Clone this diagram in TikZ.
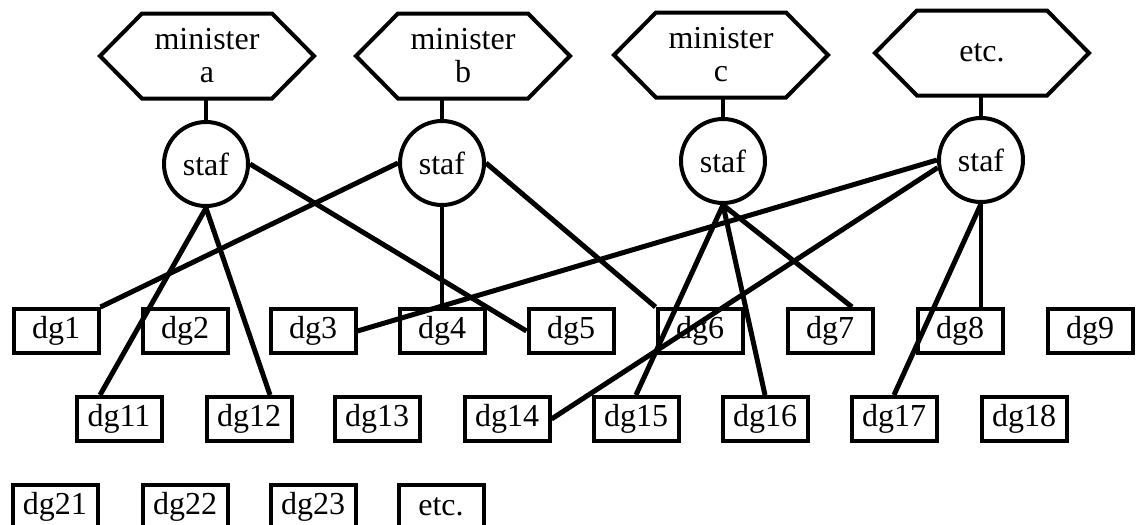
\documentclass[tikz,border=0pt]{standalone}
\usepackage{fontspec}
\setmainfont{Liberation Serif}
\newcommand\hexoutline[1]{\draw (#1.north west) -- (#1.north east) -- ([xshift=42pt]#1.east) -- (#1.south east) -- (#1.south west) -- ([xshift=-42pt]#1.west) -- cycle;}
\begin{document}
\begin{tikzpicture}[x=1pt,y=-1pt, line width=4pt,
  every node/.style={font=\fontsize{32}{33}\selectfont},
  dgbox/.style={draw, rectangle, minimum width=85pt, minimum height=44pt, inner sep=0pt},
  stafnode/.style={draw, circle, minimum size=84pt, inner sep=0pt},
  hexcore/.style={minimum width=130pt, minimum height=85pt, inner sep=0pt, outer sep=0pt, align=center},
  link/.style={line width=5pt}]
\useasboundingbox (0,0) rectangle (1136,525);

% ministers
\node[hexcore] (ha) at (207,56) {minister\\a};
\node[hexcore] (hb) at (463,56) {minister\\b};
\node[hexcore] (hc) at (721,55) {minister\\c};
\node[hexcore] (he) at (982,53) {etc.};
\hexoutline{ha}
\hexoutline{hb}
\hexoutline{hc}
\hexoutline{he}

% staf
\node[stafnode] (sa) at (206,164) {staf};
\node[stafnode] (sb) at (442,163) {staf};
\node[stafnode] (sc) at (723,161) {staf};
\node[stafnode] (se) at (981,160) {staf};

% row 1
\node[dgbox] (dg1) at (56,331) {dg1};
\node[dgbox] (dg2) at (185,331) {dg2};
\node[dgbox] (dg3) at (313,331) {dg3};
\node[dgbox] (dg4) at (442,331) {dg4};
\node[dgbox] (dg5) at (571,331) {dg5};
\node[dgbox] (dg6) at (700,331) {dg6};
\node[dgbox] (dg7) at (830,331) {dg7};
\node[dgbox] (dg8) at (960,331) {dg8};
\node[dgbox] (dg9) at (1090,331) {dg9};
% row 2
\node[dgbox] (dg11) at (119,419) {dg11};
\node[dgbox] (dg12) at (249,419) {dg12};
\node[dgbox] (dg13) at (377,419) {dg13};
\node[dgbox] (dg14) at (507,419) {dg14};
\node[dgbox] (dg15) at (636,419) {dg15};
\node[dgbox] (dg16) at (765,419) {dg16};
\node[dgbox] (dg17) at (894,419) {dg17};
\node[dgbox] (dg18) at (1024,419) {dg18};
% row 3
\node[dgbox] (dg21) at (55,507) {dg21};
\node[dgbox] (dg22) at (185,507) {dg22};
\node[dgbox] (dg23) at (313,507) {dg23};
\node[dgbox] (dgetc) at (441,507) {etc.};

% minister - staf
\draw (sa.north) -- (sa.north |- ha.south);
\draw (sb.north) -- (sb.north |- hb.south);
\draw (sc.north) -- (sc.north |- hc.south);
\draw (se.north) -- (se.north |- he.south);

% staf a
\draw[link] (sa.south) -- ([xshift=-19pt]dg11.north);
\draw[link] (sa.south) -- ([xshift=21pt]dg12.north);
\draw[link] (sa.east) -- (dg5.west);
% staf b
\draw[link] (sb.west) -- (dg1.north east);
\draw (sb.south) -- (dg4.north);
\draw[link] (sb.east) -- (dg6.north west);
% staf c
\draw[link] (sc.south) -- (dg15.north);
\draw[link] (sc.south) -- (dg16.north);
\draw[link] (sc.south) -- ([xshift=22pt]dg7.north);
% staf etc
\draw[link] (se.west) -- (dg3.east);
\draw[link] (se.190) -- (dg14.east);
\draw (se.south) -- (se.south |- dg8.north);
\draw[link] (se.south) -- (dg17.north);
\end{tikzpicture}
\end{document}
